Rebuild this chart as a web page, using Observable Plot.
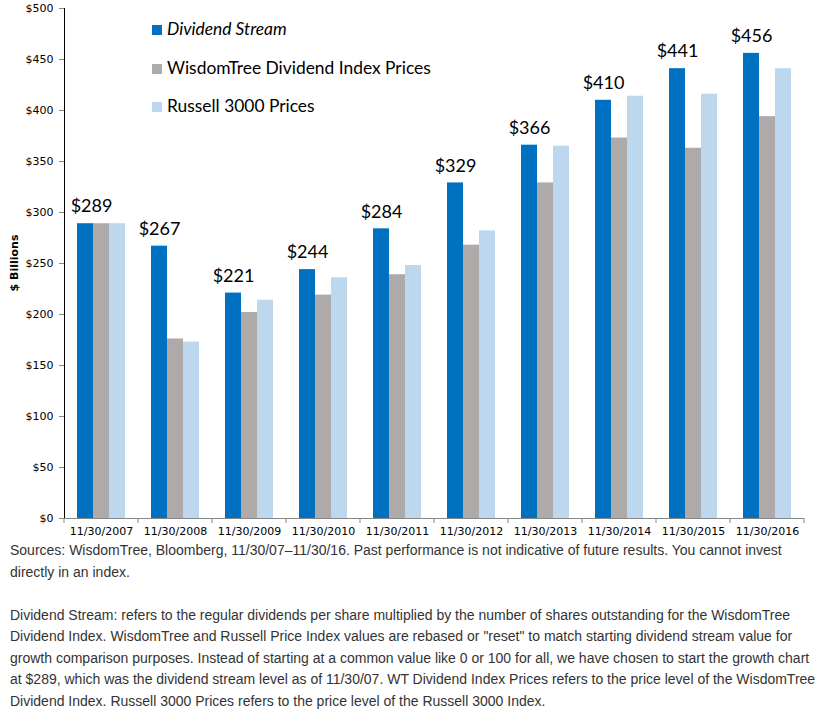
<!DOCTYPE html>
<html>
<head>
<meta charset="utf-8">
<script src="https://cdn.jsdelivr.net/npm/d3@7"></script>
<script src="https://cdn.jsdelivr.net/npm/@observablehq/plot@0.6"></script>
<style>
  html, body { margin: 0; padding: 0; background: #fff; }
  #wrap { position: relative; width: 822px; height: 709px; overflow: hidden; }
  #chart svg { display: block; }
  #chart g[aria-label^="y-axis"] line, #chart g[aria-label^="y-axis"] path { stroke: #868686; }
  .legend { position: absolute; left: 152px; top: 16px; font-family: Lato, "Open Sans", sans-serif; font-size: 17.4px; color: #000; }
  .legend .row { height: 38.5px; line-height: 26px; white-space: nowrap; }
  .legend .sw { display: inline-block; width: 10px; height: 10px; margin-right: 5px; vertical-align: 0px; }
  .ytitle { position: absolute; left: 14px; top: 263px; transform: translate(-50%, -50%) rotate(-90deg); font-family: "DejaVu Sans", sans-serif; font-weight: bold; font-size: 11px; white-space: nowrap; }
  .notes { position: absolute; left: 10px; top: 540px; font-family: "Liberation Sans", Arial, sans-serif; font-size: 14px; line-height: 21.5px; color: #333; white-space: nowrap; }
</style>
</head>
<body>
<div id="wrap">
  <div id="chart"></div>
  <div class="legend" id="legend"></div>
  <div class="ytitle">$ Billions</div>
  <div class="notes" id="notes"></div>
</div>
<script>
const dates = ["11/30/2007","11/30/2008","11/30/2009","11/30/2010","11/30/2011","11/30/2012","11/30/2013","11/30/2014","11/30/2015","11/30/2016"];
const seriesNames = ["Dividend Stream","WisdomTree Dividend Index Prices","Russell 3000 Prices"];
const dividendStream = [289, 267, 221, 244, 284, 329, 366, 410, 441, 456];
const wisdomTreePrices = [289, 176, 202, 219, 239, 268, 329, 373, 363, 394];
const russell3000Prices = [289, 173, 214, 236, 248, 282, 365, 414, 416, 441];
const yTicks = [0, 50, 100, 150, 200, 250, 300, 350, 400, 450, 500];
const colors = ["#0070C0", "#AEAAAA", "#BDD7EE"];
const noteLines = [
  "Sources: WisdomTree, Bloomberg, 11/30/07\u201311/30/16. Past performance is not indicative of future results. You cannot invest",
  "directly in an index.",
  "",
  "Dividend Stream: refers to the regular dividends per share multiplied by the number of shares outstanding for the WisdomTree",
  "Dividend Index. WisdomTree and Russell Price Index values are rebased or \"reset\" to match starting dividend stream value for",
  "growth comparison purposes. Instead of starting at a common value like 0 or 100 for all, we have chosen to start the growth chart",
  "at $289, which was the dividend stream level as of 11/30/07. WT Dividend Index Prices refers to the price level of the WisdomTree",
  "Dividend Index. Russell 3000 Prices refers to the price level of the Russell 3000 Index."
];

const seriesValues = [dividendStream, wisdomTreePrices, russell3000Prices];
const rows = dates.flatMap((date, i) => seriesNames.map((s, k) => ({date, series: s, value: seriesValues[k][i]})));

const labelStyle = {x: "series", y: "value", text: d => "$" + d.value, dy: -17, fontSize: 18, fontFamily: "Lato, sans-serif", fill: "#000"};

const chart = Plot.plot({
  width: 822,
  height: 540,
  marginTop: 8,
  marginBottom: 22,
  marginLeft: 64,
  marginRight: 18,
  style: {fontFamily: "DejaVu Sans, sans-serif", fontSize: "11px", color: "#000", background: "#fff"},
  facet: {data: rows, x: "date", marginBottom: 22},
  fx: {domain: dates, padding: 0, label: null, tickSize: 0, tickPadding: 9, axis: "bottom"},
  x: {domain: seriesNames, paddingInner: 0, paddingOuter: 0.72, axis: null},
  y: {domain: [0, 500], ticks: yTicks, tickFormat: d => "$" + d, label: null, line: true, tickSize: 5, tickPadding: 6},
  color: {domain: seriesNames, range: colors},
  marks: [
    Plot.barY(rows, {x: "series", y: "value", fill: "series"}),
    Plot.text(rows, {...labelStyle, filter: d => d.series === seriesNames[0] && d.date !== dates[0]}),
    Plot.text(rows, {...labelStyle, filter: d => d.series === seriesNames[0] && d.date === dates[0], dx: 6}),
    Plot.ruleY([0], {stroke: "#868686"})
  ]
});
document.getElementById("chart").appendChild(chart);

// boundary tick marks on the category axis, positioned from the fx scale
const fxs = chart.scale("fx");
const band = d3.scaleBand().domain(fxs.domain).range(fxs.range).padding(0);
const ys = chart.scale("y");
const y0 = d3.scaleLinear().domain(ys.domain).range(ys.range)(0);
const bounds = band.domain().map(d => band(d)).concat([band(band.domain()[band.domain().length - 1]) + band.bandwidth()]);
const svg = d3.select(chart.tagName.toLowerCase() === "svg" ? chart : chart.querySelector("svg"));
svg.append("g").selectAll("line").data(bounds).join("line")
  .attr("x1", d => d).attr("x2", d => d)
  .attr("y1", y0).attr("y2", y0 + 5)
  .attr("stroke", "#868686");

// legend
const legend = d3.select("#legend");
seriesNames.forEach((s, k) => {
  const row = legend.append("div").attr("class", "row");
  row.append("span").attr("class", "sw").style("background", colors[k]);
  row.append("span").style("font-style", k === 0 ? "italic" : "normal").text(s);
});

// notes
d3.select("#notes").selectAll("div").data(noteLines).join("div").text(d => d || "\u00a0");
</script>
</body>
</html>
